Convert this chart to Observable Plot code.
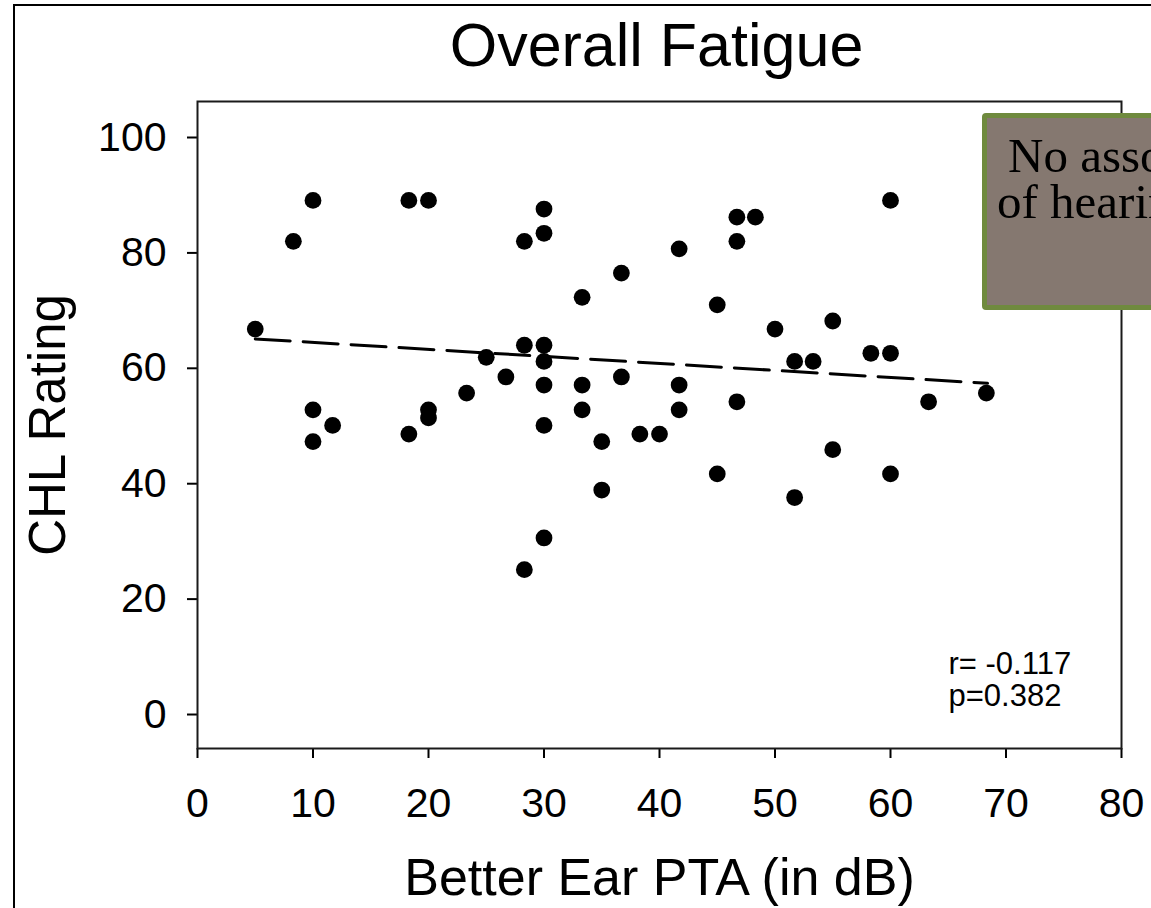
<!DOCTYPE html>
<html><head><meta charset="utf-8">
<script src="https://cdn.jsdelivr.net/npm/d3@7"></script>
<script src="https://cdn.jsdelivr.net/npm/@observablehq/plot@0.6"></script>
<style>
html,body{margin:0;padding:0;background:#fff;overflow:hidden;}
#wrap{position:relative;width:1151px;height:908px;overflow:hidden;background:#fff;}
#chart{position:absolute;left:0;top:0;}
#border{position:absolute;left:13px;top:4px;width:2000px;height:2000px;border-left:2px solid #000;border-top:2px solid #000;}
#note{position:absolute;left:982px;top:113px;width:420px;height:187px;background:#857870;border:5px solid #6f8a3e;border-radius:4px;font-family:"Liberation Serif","Times New Roman",serif;font-size:49px;color:#000;}
#note span{position:absolute;white-space:nowrap;line-height:44px;}
</style></head>
<body><div id="wrap"><div id="border"></div><div id="chart"></div><div id="note"></div></div>
<script>
// Better Ear PTA (dB) and CHL rating for each participant
const pta = [5.0, 8.3, 10.0, 10.0, 10.0, 11.7, 18.3, 18.3, 20.0, 20.0, 20.0, 23.3, 25.0, 26.7,
  28.3, 28.3, 28.3, 30.0, 30.0, 30.0, 30.0, 30.0, 30.0, 30.0, 33.3, 33.3, 33.3, 35.0, 35.0,
  36.7, 36.7, 38.3, 40.0, 41.7, 41.7, 41.7, 45.0, 45.0, 46.7, 46.7, 46.7, 48.3, 50.0, 51.7,
  51.7, 53.3, 55.0, 55.0, 58.3, 60.0, 60.0, 60.0, 63.3, 68.3];
const chl = [66.8, 82.0, 89.1, 52.8, 47.3, 50.1, 89.1, 48.6, 89.1, 52.8, 51.4, 55.7, 61.9, 58.5,
  82.0, 64.0, 25.1, 87.6, 83.4, 64.0, 61.2, 57.1, 50.1, 30.6, 72.3, 57.1, 52.8, 47.3, 38.9,
  76.5, 58.5, 48.6, 48.6, 80.7, 57.1, 52.8, 71.0, 41.7, 86.2, 82.0, 54.2, 86.2, 66.8, 61.2,
  37.6, 61.2, 68.2, 45.9, 62.6, 89.1, 62.6, 41.7, 54.2, 55.7];
// fitted trend line endpoints
const trendX = [5.0, 68.4];
const trendY = [65.1, 57.4];
const xTicks = [0, 10, 20, 30, 40, 50, 60, 70, 80];
const yTicks = [0, 20, 40, 60, 80, 100];
const title = "Overall Fatigue";
const xLabel = "Better Ear PTA (in dB)";
const yLabel = "CHL Rating";
const stats = ["r= -0.117", "p=0.382"];
const noteLines = ["No association with degree", "of hearing loss and fatigue"];

const data = pta.map((x, i) => ({x, y: chl[i]}));
const trend = trendX.map((x, i) => ({x, y: trendY[i]}));
const font = "'Liberation Sans', Arial, Helvetica, sans-serif";

const chart = Plot.plot({
  width: 1151, height: 908,
  marginLeft: 197, marginRight: 30, marginTop: 101, marginBottom: 160,
  style: {fontFamily: font, background: "transparent", overflow: "visible", color: "#000"},
  x: {domain: [0, 80], label: null},
  y: {domain: [-5.89, 106.24], label: null},
  marks: [
    Plot.axisX(xTicks, {tickSize: 10, tickPadding: 29, fontSize: 41, strokeWidth: 2, label: null}),
    Plot.axisY(yTicks, {tickSize: 10, tickPadding: 21, fontSize: 41, strokeWidth: 2, label: null}),
    Plot.frame({stroke: "#1a1a1a", strokeWidth: 2}),
    Plot.line(trend, {x: "x", y: "y", stroke: "#000", strokeWidth: 3, strokeDasharray: "35,13"}),
    Plot.dot(data, {x: "x", y: "y", r: 8.4, fill: "#000"}),
    Plot.text([title], {text: d => d, frameAnchor: "top", lineAnchor: "bottom", dy: -36, dx: -3, fontSize: 61, fill: "#000"}),
    Plot.text([xLabel], {text: d => d, frameAnchor: "bottom", lineAnchor: "top", dy: 110, fontSize: 52, fill: "#000"}),
    Plot.text([yLabel], {text: d => d, frameAnchor: "left", textAnchor: "middle", lineAnchor: "top", rotate: -90, dx: -169, fontSize: 51, fill: "#000"}),
    Plot.text([stats.join("\n")], {text: d => d, frameAnchor: "bottom-right", textAnchor: "start", lineAnchor: "bottom", dx: -173, dy: -43, fontSize: 31, lineHeight: 1.03, fill: "#000"})
  ]
});
document.getElementById("chart").appendChild(chart);

const note = document.getElementById("note");
const offsets = [{left: 21, top: 15.5}, {left: 10, top: 61.5}];
noteLines.forEach((t, i) => {
  const s = document.createElement("span");
  s.textContent = t;
  s.style.left = offsets[i].left + "px";
  s.style.top = offsets[i].top + "px";
  note.appendChild(s);
});
</script>
</body></html>
